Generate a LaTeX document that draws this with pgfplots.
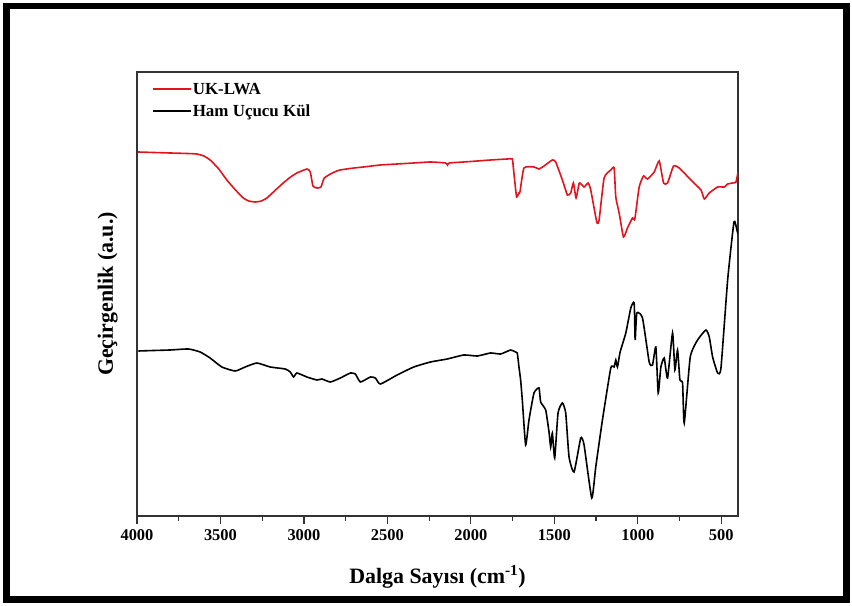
\documentclass[border=0pt]{standalone}
\usepackage{pgfplots}
\pgfplotsset{compat=1.18}
\usepackage{fontspec}
\setmainfont{Liberation Serif}
\definecolor{ukred}{RGB}{225,20,30}

\begin{document}
\begin{tikzpicture}
\path[use as bounding box] (0bp,0bp) rectangle (852bp,606bp);
\draw[line width=6.5bp] (6.5bp,6.5bp) rectangle (846.5bp,600bp);
\begin{axis}[
  at={(137bp,90bp)}, anchor=south west,
  scale only axis, width=601bp, height=444bp,
  x dir=reverse, xmin=400, xmax=4000, ymin=0, ymax=444,
  xtick={500,1000,...,4000}, minor x tick num=1, ytick=\empty,
  xtick pos=bottom, tick align=outside,
  major tick length=8bp, minor tick length=5bp,
  axis line style={line width=1.2bp, black!80},
  every tick/.style={line width=1.2bp, black!80},
  /pgf/number format/assume math mode=true,
  /pgf/number format/set thousands separator={},
  xticklabel style={font=\fontsize{16.5}{16.5}\selectfont\bfseries, yshift=-2bp},
  xlabel={Dalga Sayısı (cm\textsuperscript{-1})},
  ylabel={Geçirgenlik (a.u.)},
  xlabel style={font=\fontsize{22}{22}\selectfont\bfseries, at={(axis description cs:0.5,-0.151)}, anchor=base},
  ylabel style={font=\fontsize{22}{22}\selectfont\bfseries, at={(axis description cs:-0.04,0.5)}, anchor=base},
  legend style={at={(axis description cs:0.025,0.978)}, anchor=north west, draw=none, fill=none,
    font=\fontsize{17}{17}\selectfont\bfseries, inner sep=0pt, row sep=7bp,
    nodes={inner sep=1bp}},
  legend cell align=left,
  legend image code/.code={\draw[#1] (0bp,0bp) -- (38bp,0bp);},
  every axis plot/.append style={smooth, tension=0.3},
]
\addplot[ukred, line width=1.6bp] coordinates {
(3994,364)(3900,363.5)(3800,363)(3700,362.5)(3642,362)(3600,360)(3562,356)(3510,347)(3462,336)(3410,326)(3364,318)(3330,315)(3292,314)(3255,315)(3222,318)
(3170,326)(3124,333)(3080,339)(3042,343)(2982,347)(2962,344)(2946,330)(2922,328)(2898,329)(2878,338)
(2830,343)(2784,346)(2700,348)(2644,349)(2542,351)(2442,352)(2342,353)(2242,354)(2152,353)(2140,351)(2130,353)(2044,354)
(1960,355)(1882,356)(1782,357)(1752,357)(1746,349)(1738,336)(1726,319)(1712,323)(1706,324)
(1682,348)(1622,349)(1592,347)(1562,350)(1512,356)(1492,354)(1452,336)(1422,321)
(1402,323)(1386,333)(1370,318)(1350,333)(1322,329)(1298,333)(1282,326)(1246,294)
(1232,296)(1202,338)(1162,346)(1142,348)(1132,319)(1112,303)(1086,279)(1062,288)
(1032,298)(1018,297)(992,329)(966,340)(942,337)(902,344)(872,355)(846,333)
(822,333)(786,350)(752,348)(682,336)(622,326)(602,317)(572,323)(522,329)
(482,329)(462,332)(432,333)(412,334)(400,344)
};
\addlegendentry{UK-LWA}
\addplot[black, line width=1.6bp] coordinates {
(3992,165)(3900,165.5)(3802,166)(3692,167)(3622,164)(3562,158)(3492,149)(3412,145)(3352,149)
(3282,153)(3202,149)(3112,147)(3082,144)(3062,139)(3042,143)(2982,139)(2922,136)
(2892,137)(2842,134)(2782,138)(2722,143)(2692,142)(2662,134)(2602,139)(2572,138)
(2542,132)(2442,141)(2342,149)(2242,154)(2142,157)(2042,161)(1962,160)(1882,163)
(1822,162)(1762,166)(1732,164)(1722,163)(1712,149)(1702,136)(1692,116)(1672,71)
(1652,96)(1622,123)(1592,128)(1582,114)(1552,106)(1532,84)(1522,69)(1512,83)
(1498,58)(1478,103)(1452,113)(1432,103)(1412,59)(1382,44)(1342,78)(1322,71)
(1276,18)(1252,49)(1212,96)(1162,148)(1142,149)(1132,156)(1122,149)(1106,164)
(1072,183)(1042,208)(1022,213)(1016,176)(1006,203)(972,198)(932,154)(912,151)
(892,169)(878,123)(862,149)(842,158)(822,138)(792,183)(778,146)(762,166)
(748,136)(732,133)(722,93)(686,159)(642,176)(592,186)(572,179)(552,159)
(522,143)(502,148)(462,236)(424,294)(405,285)(400,282)
};
\addlegendentry{Ham Uçucu Kül}
\end{axis}
\end{tikzpicture}
\end{document}
